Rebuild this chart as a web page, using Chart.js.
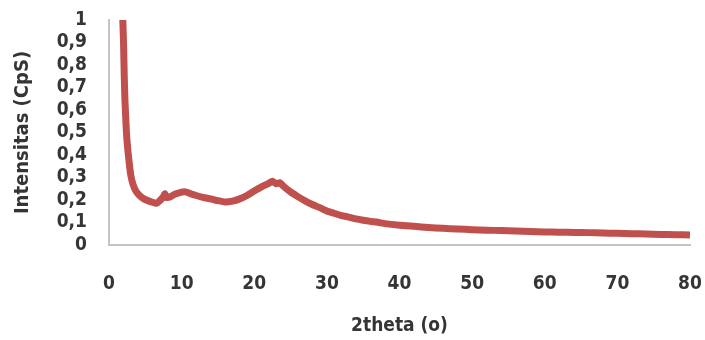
<!DOCTYPE html>
<html>
<head>
<meta charset="utf-8">
<script src="https://cdn.jsdelivr.net/npm/chart.js@4/dist/chart.umd.min.js"></script>
<style>
  html, body { margin: 0; padding: 0; background: #ffffff; }
  #wrap { width: 705px; height: 340px; }
</style>
</head>
<body>
<div id="wrap"><canvas id="c" width="705" height="340"></canvas></div>
<script>
// 2theta values (degrees)
const twoTheta = [1.9, 2.0, 2.1, 2.2, 2.4, 2.6, 2.8, 3.0, 3.3, 3.7, 4.2, 4.8, 5.5, 6.0, 6.5, 7.0, 7.5, 7.7, 7.9, 8.5,
  9.0, 9.5, 10.0, 10.5, 11.0, 11.5, 12.0, 13.0, 14.0, 15.0, 16.0, 17.0, 18.0, 19.0, 20.0, 21.0, 22.0, 22.5, 23.0, 23.5,
  24.0, 25.0, 26.0, 27.0, 28.0, 29.0, 30.0, 31.0, 32.0, 33.0, 34.0, 35.0, 36.0, 37.0, 38.0, 40.0, 42.0, 44.0, 46.0, 48.0,
  50.0, 52.0, 54.0, 56.0, 58.0, 60.0, 62.0, 64.0, 66.0, 68.0, 70.0, 72.0, 74.0, 76.0, 78.0, 80.0];
// Intensity (CpS)
const intensity = [1.00, 0.90, 0.75, 0.64, 0.50, 0.42, 0.36, 0.31, 0.27, 0.24, 0.22, 0.205, 0.195, 0.19, 0.185, 0.197, 0.215, 0.228, 0.212, 0.215,
  0.225, 0.23, 0.235, 0.236, 0.231, 0.225, 0.22, 0.211, 0.205, 0.197, 0.191, 0.195, 0.205, 0.22, 0.24, 0.258, 0.274, 0.283, 0.272, 0.277,
  0.262, 0.236, 0.215, 0.196, 0.18, 0.166, 0.151, 0.141, 0.131, 0.124, 0.116, 0.11, 0.105, 0.101, 0.095, 0.088, 0.083, 0.078, 0.074, 0.071,
  0.068, 0.066, 0.064, 0.062, 0.06, 0.058, 0.057, 0.056, 0.055, 0.053, 0.052, 0.05, 0.049, 0.047, 0.046, 0.044];
const yTickLabels = ['0', '0,1', '0,2', '0,3', '0,4', '0,5', '0,6', '0,7', '0,8', '0,9', '1'];
const xTickLabels = ['0', '10', '20', '30', '40', '50', '60', '70', '80'];
const xTitle = '2theta (o)';
const yTitle = 'Intensitas (CpS)';

const points = twoTheta.map((x, i) => ({ x: x, y: intensity[i] }));
const fontFam = "'Liberation Sans Narrow', 'Arial Narrow', 'DejaVu Sans Condensed', 'Liberation Sans', sans-serif";
const txtColor = '#353535';

function zeroPad(s) { s.paddingTop = 0; s.paddingBottom = 0; s.paddingLeft = 0; s.paddingRight = 0; }

new Chart(document.getElementById('c'), {
  type: 'line',
  data: {
    datasets: [{
      data: points,
      borderColor: '#c0504d',
      backgroundColor: '#c0504d',
      borderWidth: 7,
      pointRadius: 0,
      tension: 0.15,
      fill: false
    }]
  },
  options: {
    responsive: false,
    animation: false,
    layout: { padding: { left: 10, top: 20, right: 15, bottom: 3 } },
    plugins: { legend: { display: false }, tooltip: { enabled: false } },
    scales: {
      x: {
        type: 'linear',
        min: 0, max: 80,
        grid: { display: false, drawTicks: false },
        border: { display: true, color: '#c4c4c4', width: 2 },
        ticks: {
          stepSize: 10,
          padding: 28,
          color: txtColor,
          font: { family: fontFam, size: 19, weight: 'bold' },
          maxRotation: 0,
          callback: (v, i) => xTickLabels[i]
        },
        title: {
          display: true, text: xTitle, color: txtColor,
          font: { family: fontFam, size: 19, weight: 'bold' },
          padding: { top: 0, bottom: 0 }
        },
        afterFit: (s) => { s.height = 92; zeroPad(s); }
      },
      y: {
        min: 0, max: 1,
        grid: { display: false, drawTicks: false },
        border: { display: true, color: '#c4c4c4', width: 2 },
        ticks: {
          stepSize: 0.1,
          padding: 22,
          color: txtColor,
          autoSkip: false,
          font: { family: fontFam, size: 19, weight: 'bold' },
          callback: (v, i) => yTickLabels[i]
        },
        title: {
          display: true, text: yTitle, color: txtColor,
          font: { family: fontFam, size: 20, weight: 'bold' },
          padding: { top: 1, bottom: 0 }
        },
        afterFit: (s) => { s.width = 99; zeroPad(s); }
      }
    }
  }
});
</script>
</body>
</html>
